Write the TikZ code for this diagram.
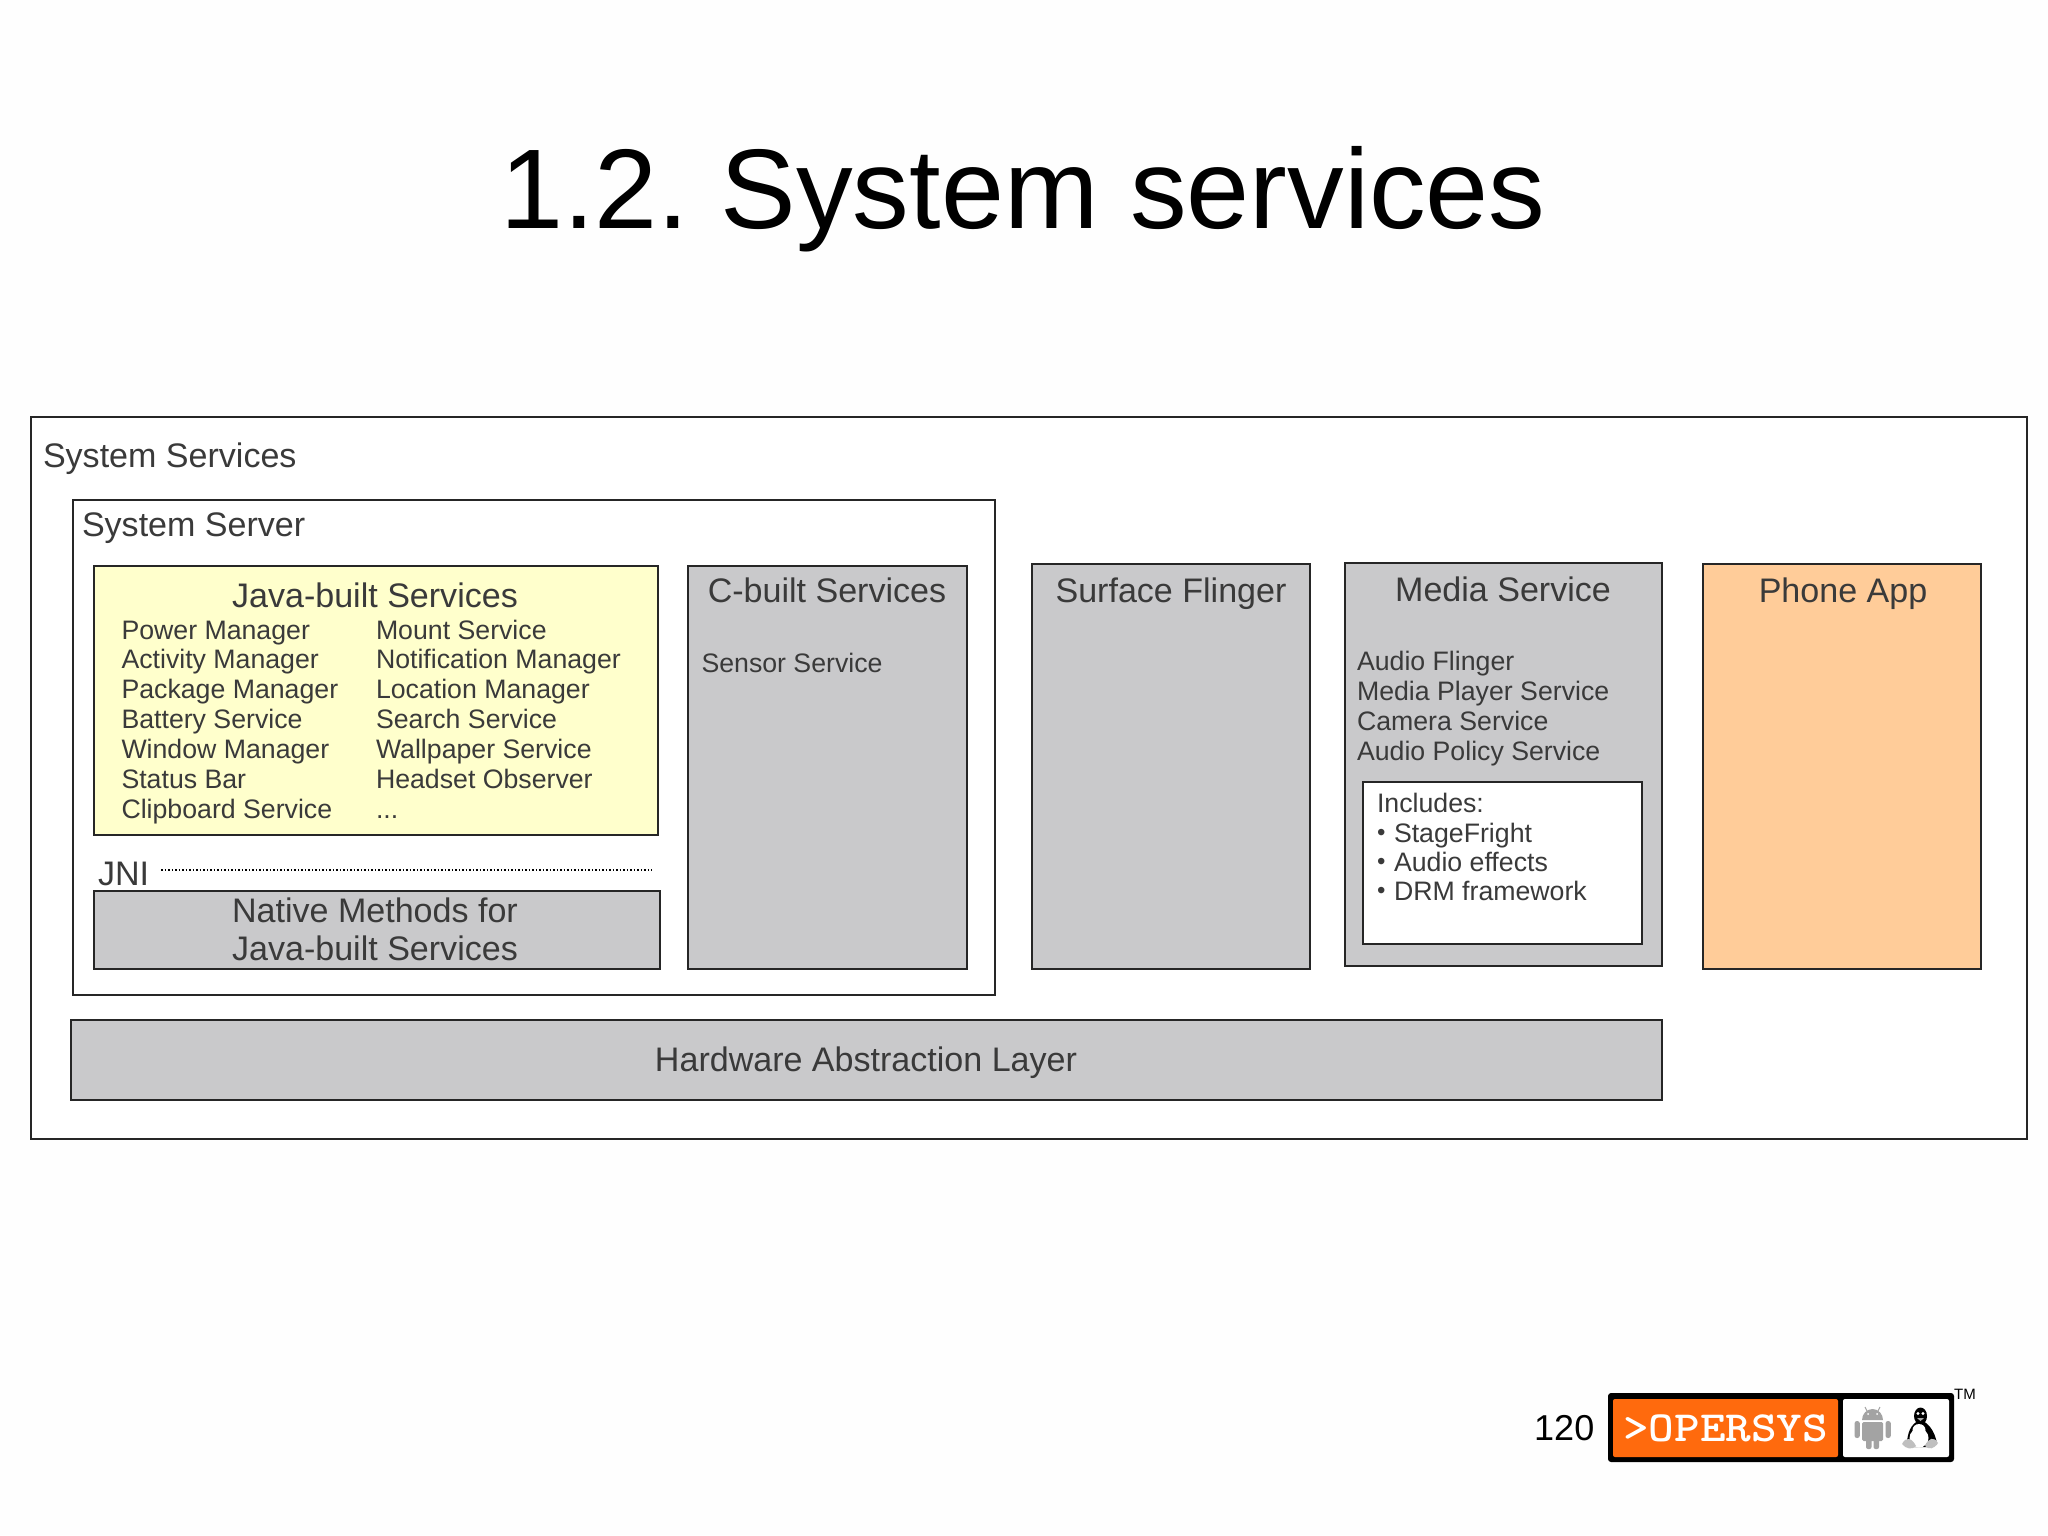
\documentclass[tikz,border=0pt]{standalone}
\usepackage{fontspec}
\setmainfont{Liberation Sans}
\definecolor{boxgray}{HTML}{C9C9CB}
\definecolor{javay}{HTML}{FFFFCC}
\definecolor{phoneo}{HTML}{FFCC99}
\definecolor{txt}{HTML}{3A3A3A}
\definecolor{logoo}{HTML}{FF6A0D}
\definecolor{logog}{HTML}{A3A3A3}
\newcommand{\fsz}[1]{\fontsize{#1}{#1}\selectfont}
\tikzset{
 x=1pt,y=-1pt,
 boxline/.style={draw=black!85,line width=1.4pt},
 lab/.style={inner sep=0pt,outer sep=0pt,text=txt},
 big/.style={lab,anchor=base,font=\fsz{34.05}},
 bigl/.style={lab,anchor=base west,font=\fsz{34.05}},
 item/.style={lab,anchor=base west,font=\fsz{26.7}},
 bul/.style={lab,anchor=base west,font=\fsz{24}},
}
\newcommand{\bx}[6]{\path[boxline,fill=#6] (#2,#3) rectangle (#4,#5); \coordinate (#1) at (#2,#3);}
\begin{document}
\frenchspacing
\begin{tikzpicture}
\useasboundingbox (0,0) rectangle (2048,1535);
\fill[white!99.5!black] (0,0) rectangle (2048,1535);
\node[anchor=base,inner sep=0,font=\fsz{113.3}] (title) at (1023,228) {1.2. System services};
\bx{outer}{31}{417}{2027}{1139}{white}
\node[bigl] (ss) at (43,467) {System Services};
\bx{server}{73}{500}{995}{995}{white}
\node[bigl] (sv) at (82,536) {System Server};
\bx{java}{94}{566}{658}{835}{javay}
\node[big] (jt) at (375,607.5) {Java-built Services};
\foreach \n/\y/\a/\b in {1/639/Power Manager/Mount Service,2/668.5/Activity Manager/Notification Manager,3/698.5/Package Manager/Location Manager,4/728.5/Battery Service/Search Service,5/758/Window Manager/Wallpaper Service,6/788/Status Bar/Headset Observer}{
 \node[item] (ja\n) at (121.5,\y) {\a};
 \node[item] (jb\n) at (376,\y) {\b};
}
\node[item] (ja7) at (121.5,818) {Clipboard Service};
\node[item] (jb7) at (376,818) {...};
\node[bigl] (jni) at (98,885) {JNI};
\coordinate (ds) at (161,870);
\coordinate (de) at (652,870);
\draw[line width=1.2pt,dash pattern=on 1.5pt off 2pt] (ds) -- (de);
\bx{native}{94}{891}{660}{969}{boxgray}
\node[big] (n1) at (375,922) {Native Methods for};
\node[big] (n2) at (375,960) {Java-built Services};
\bx{cb}{688}{566}{967}{969}{boxgray}
\node[big] (cbt) at (827,602) {C-built Services};
\node[item] (sens) at (701.5,672) {Sensor Service};
\bx{sf}{1032}{564}{1310}{969}{boxgray}
\node[big] (sft) at (1171,602) {Surface Flinger};
\bx{ms}{1345}{563}{1662}{966}{boxgray}
\node[big] (mst) at (1503,601) {Media Service};
\foreach \n/\y/\a in {1/670/Audio Flinger,2/700/Media Player Service,3/730/Camera Service,4/760/Audio Policy Service}{
 \node[item] (m\n) at (1357,\y) {\a};
}
\bx{inc}{1363}{782}{1642}{944}{white}
\node[item] (i0) at (1377,812) {Includes:};
\foreach \n/\y/\a in {1/842/StageFright,2/871/Audio effects,3/900/DRM framework}{
 \node[bul] (b\n) at (1377,\y-1.5) {•};
 \node[item] (i\n) at (1394,\y) {\a};
}
\bx{ph}{1703}{564}{1981}{969}{phoneo}
\node[big] (pht) at (1843,602) {Phone App};
\bx{hal}{71}{1020}{1662}{1100}{boxgray}
\node[big] (halt) at (866,1071) {Hardware Abstraction Layer};
% footer
\node[anchor=base west,inner sep=0,font=\fsz{36}] (pg) at (1534,1440) {120};
\fill[black,rounded corners=3pt] (1608,1393) rectangle (1954,1462);
\fill[logoo,rounded corners=2pt] (1613,1399) rectangle (1838,1457);
\fill[white,rounded corners=2pt] (1843,1399) rectangle (1949,1457);
\node[anchor=base west,inner sep=0,text=white,font=\ttfamily\bfseries\fsz{43}] (logo) at (1623,1441) {\scalebox{1.135}[1]{>OPERSYS}};
\node[anchor=base west,inner sep=0,font=\fsz{15}] (tm) at (1954,1399) {TM};
\begin{scope}[xshift=2pt]
% android
\begin{scope}[logog]
\fill (1860,1420) arc[start angle=180,end angle=0,x radius=10.5,y radius=-11] -- cycle;
\draw[line width=1pt] (1865,1411) -- (1863,1407) (1876,1411) -- (1878,1407);
\fill[rounded corners=1.5pt] (1860,1422) rectangle (1881,1441);
\fill[rounded corners=2pt] (1864,1436) rectangle (1869.5,1449);
\fill[rounded corners=2pt] (1871.5,1436) rectangle (1877,1449);
\fill[rounded corners=2.4pt] (1852.5,1421) rectangle (1857.8,1438);
\fill[rounded corners=2.4pt] (1883.5,1421) rectangle (1888.8,1438);
\fill[white] (1866,1414) circle (1pt) (1875,1414) circle (1pt);
\end{scope}
% tux
\fill[black] (1918.5,1416) ellipse [x radius=6.5,y radius=8.5];
\fill[black] (1905,1442) .. controls (1906,1428) and (1912,1422) .. (1918.5,1420) .. controls (1925,1422) and (1933,1430) .. (1935,1444) -- (1930,1447) -- (1908,1447) -- cycle;
\fill[white] (1917,1430) ellipse [x radius=6.5,y radius=6];
\fill[white] (1917,1438) ellipse [x radius=9.5,y radius=9.5];
\fill[black!25] (1900,1444) .. controls (1904,1436) and (1910,1438) .. (1914,1446) .. controls (1910,1450) and (1904,1449) .. (1900,1444) -- cycle;
\fill[black!25] (1936,1443) .. controls (1932,1436) and (1926,1438) .. (1923,1446) .. controls (1927,1450) and (1932,1449) .. (1936,1443) -- cycle;
\fill[white] (1916,1413.5) circle (1.6pt) (1921,1413.5) circle (1.6pt);
\fill[black!35] (1915,1418) -- (1922,1418) -- (1918.5,1421) -- cycle;
\end{scope}
\end{tikzpicture}
\end{document}
